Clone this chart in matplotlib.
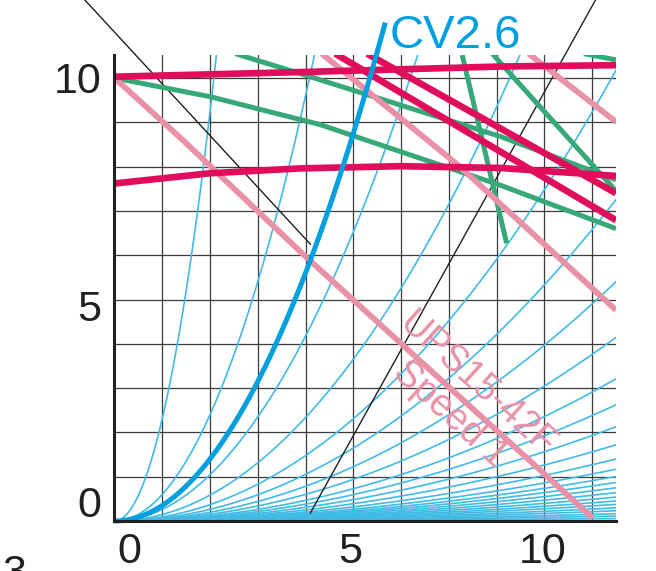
import numpy as np
import matplotlib
matplotlib.use("Agg")
import matplotlib.pyplot as plt

plt.rcParams['font.family'] = ['Liberation Sans', 'DejaVu Sans']

sys_coef = [2.31, 0.60, 0.261, 0.146, 0.0923, 0.0658, 0.049, 0.0376, 0.0291,
            0.0238, 0.0193, 0.0156, 0.0127, 0.0106, 0.0091, 0.0079, 0.0068,
            0.0058, 0.0049, 0.0041, 0.0034, 0.0027, 0.0021, 0.0015, 0.0010, 0.0005]
cv_coef = 0.35
cv_qmax = 5.67
cv_label = "CV2.6"

# pump curves (pink = UPS15-42F speed 1 and neighbours)
pink_curves = [
    ([0.0, 1.44, 4.0, 10.02], [10.0, 8.59, 5.97, 0.06]),
    ([4.34, 7.23, 10.5], [10.55, 8.0, 4.76]),
    ([8.67, 10.5], [10.55, 9.01]),
]
red_curves = [
    ([0.0, 4.1, 8.08, 10.5], [10.03, 10.14, 10.26, 10.29]),
    ([0.0, 2.0, 3.89, 5.98, 8.08, 10.5], [7.62, 7.85, 7.96, 8.01, 7.97, 7.79]),
    ([4.62, 10.5], [10.55, 6.79]),
    ([5.29, 10.5], [10.55, 7.40]),
]
green_curves = [
    ([0.0, 2.0, 4.3, 8.08, 10.5], [10.0, 9.58, 8.95, 7.58, 6.6]),
    ([2.53, 3.89, 8.08, 10.5], [10.55, 10.1, 8.68, 7.7]),
    ([7.28, 8.21], [10.52, 6.27]),
    ([7.91, 8.15, 10.04, 10.5], [10.55, 10.26, 8.0, 7.45]),
    ([9.83, 10.5], [10.55, 10.41]),
]
black_lines = [
    ([-0.62, 4.10], [11.76, 6.25]),
    ([4.10, 10.07], [0.18, 11.76]),
]

x_tick_pos = [0.32, 4.94, 8.96]
x_tick_lab = ["0", "5", "10"]
y_tick_pos = [0.45, 4.87, 10.02]
y_tick_lab = ["0", "5", "10"]
pump_label = "UPS15-42F\nSpeed 1"

dark = '#231f20'
blue = '#3fbbe6'
blue_thick = '#00a0e0'
red = '#e00d5d'
pink = '#e891a8'
green = '#37a878'

fig = plt.figure(figsize=(6.56, 5.71), dpi=100)
ax = fig.add_axes([114.5 / 656, 50 / 571, 501.5 / 656, 466 / 571])
ax.set_xlim(0, 10.5)
ax.set_ylim(0, 10.52)

for i in range(1, 11):
    ax.axvline(i, color='#3a3a3a', lw=0.9, zorder=1)
    ax.axhline(i, color='#3a3a3a', lw=0.9, zorder=1)

q = np.linspace(0, 10.5, 400)
for k in sys_coef:
    ax.plot(q, k * q ** 2, color=blue, lw=1.2, zorder=2)

for xs, ys in black_lines:
    ax.plot(xs, ys, color=dark, lw=1.0, zorder=3, clip_on=False)
for xs, ys in green_curves:
    ax.plot(xs, ys, color=green, lw=3.6, zorder=4, solid_capstyle='butt')
for xs, ys in pink_curves:
    ax.plot(xs, ys, color=pink, lw=4.2, zorder=5, solid_capstyle='butt')
for xs, ys in red_curves:
    ax.plot(xs, ys, color=red, lw=4.8, zorder=6, solid_capstyle='butt')

qc = np.linspace(0, cv_qmax, 200)
ax.plot(qc, cv_coef * qc ** 2, color=blue_thick, lw=3.6, zorder=7,
        clip_on=False, solid_capstyle='butt')
ax.text(5.75, 10.68, cv_label, color=blue_thick, fontsize=34,
        ha='left', va='baseline', zorder=8)
ax.text(7.3, 2.75, pump_label, color=pink, fontsize=27, rotation=-42,
        ha='center', va='center', multialignment='center', linespacing=1.15,
        rotation_mode='anchor', zorder=8)

for s in ['top', 'right']:
    ax.spines[s].set_visible(False)
for s in ['left', 'bottom']:
    ax.spines[s].set_color(dark)
    ax.spines[s].set_linewidth(2.2)
    ax.spines[s].set_zorder(9)

ax.set_xticks(x_tick_pos, x_tick_lab)
ax.set_yticks(y_tick_pos, y_tick_lab)
ax.tick_params(axis='both', length=0, labelsize=31, labelcolor=dark)
ax.tick_params(axis='x', pad=8)
ax.tick_params(axis='y', pad=9.5)

# glyph cut off by the bottom edge of the picture
fig.text(0.003, 0.03, "3", fontsize=31, color=dark, ha='left', va='top')

fig.savefig("out.png", dpi=100)
